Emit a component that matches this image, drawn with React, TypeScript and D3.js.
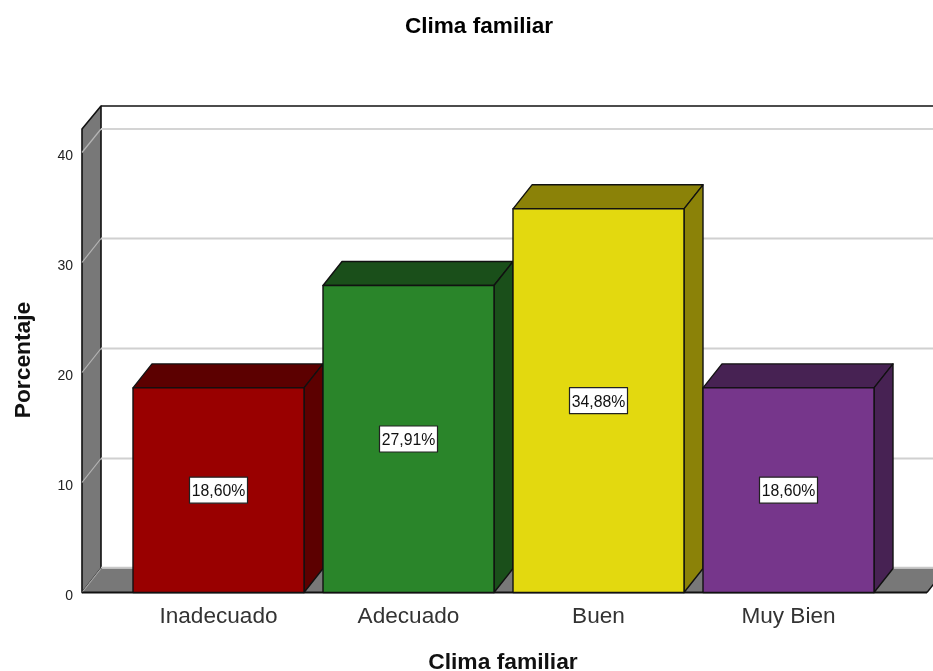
import React from "react";
import * as d3 from "d3";

const categories = ["Inadecuado", "Adecuado", "Buen", "Muy Bien"];
const values = [18.6, 27.91, 34.88, 18.6];
const valueLabels = ["18,60%", "27,91%", "34,88%", "18,60%"];
const frontColors = ["#990000", "#2a852a", "#e3d90f", "#76368b"];
const sideColors = ["#5c0000", "#1a4f1a", "#8b8208", "#472253"];
const topColors = ["#5c0000", "#1a4f1a", "#8b8208", "#472253"];
const yTicks = [0, 10, 20, 30, 40];

const FONT = "'Liberation Sans', Arial, sans-serif";
const W = 933, H = 671;
const DX = 19, DY = 24;
const left = 82, rightFloor = 927;

export default function App() {
  const y = d3.scaleLinear().domain([0, 40]).range([592.5, 152.5]);
  const x = d3.scaleBand<string>().domain(categories).range([123.5, 883.5]).paddingInner(0.1).paddingOuter(0.05);
  const y0 = y(0);
  const wallTop = 129;
  const pts = (p: number[][]) => p.map((q) => q.join(",")).join(" ");
  return (
    <svg width={W} height={H} viewBox={`0 0 ${W} ${H}`} style={{ position: "absolute", left: 0, top: 0, background: "#fff", fontFamily: FONT, filter: "blur(0.4px)" }}>
      <text x={479} y={33} textAnchor="middle" fontSize={22.6} fontWeight="bold" fill="#000">Clima familiar</text>

      {/* side wall, floor, back wall */}
      <polygon points={pts([[left, wallTop], [left + DX, wallTop - DY + 1], [left + DX, y0 - DY], [left, y0]])} fill="#787878" stroke="#111" strokeWidth={1.6} strokeLinejoin="round" />
      <polygon points={pts([[left, y0], [left + DX, y0 - DY], [rightFloor + DX, y0 - DY], [rightFloor, y0]])} fill="#787878" stroke="none" />
      <line x1={left + DX} x2={W} y1={y0 - DY - 1} y2={y0 - DY - 1} stroke="#c8c8c8" strokeWidth={1.5} />
      <line x1={left} x2={left + DX} y1={y0} y2={y0 - DY} stroke="#aaa" strokeWidth={1.2} />
      <line x1={left + DX} x2={W} y1={wallTop - DY + 1} y2={wallTop - DY + 1} stroke="#111" strokeWidth={1.6} />
      <line x1={left + DX} x2={W} y1={wallTop} y2={wallTop} stroke="#d4d4d4" strokeWidth={2} />
      <line x1={left} x2={left + DX} y1={y(40)} y2={wallTop} stroke="#b5b5b5" strokeWidth={1.2} />
      {yTicks.slice(1, 4).map((t) => (
        <g key={`g${t}`}>
          <line x1={left + DX} x2={W} y1={y(t) - DY} y2={y(t) - DY} stroke="#d0d0d0" strokeWidth={2} />
          <line x1={left} x2={left + DX} y1={y(t)} y2={y(t) - DY} stroke="#b5b5b5" strokeWidth={1.2} />
        </g>
      ))}
      <line x1={left} x2={rightFloor} y1={y0} y2={y0} stroke="#111" strokeWidth={1.8} />
      <line x1={rightFloor} x2={rightFloor + DX} y1={y0} y2={y0 - DY} stroke="#111" strokeWidth={1.4} />

      {yTicks.map((t) => (
        <text key={t} x={73} y={y(t) + 7} textAnchor="end" fontSize={14} fill="#222">{t}</text>
      ))}

      {categories.map((c, i) => {
        const bx = x(c)!;
        const bw = x.bandwidth();
        const by = y(values[i]);
        const cx = bx + bw / 2;
        const cy = (by + y0) / 2;
        return (
          <g key={c} stroke="#111" strokeWidth={1.4} strokeLinejoin="round">
            <polygon points={pts([[bx, by], [bx + DX, by - DY], [bx + bw + DX, by - DY], [bx + bw, by]])} fill={topColors[i]} />
            <polygon points={pts([[bx + bw, by], [bx + bw + DX, by - DY], [bx + bw + DX, y0 - DY], [bx + bw, y0]])} fill={sideColors[i]} />
            <rect x={bx} y={by} width={bw} height={y0 - by} fill={frontColors[i]} />
            <rect x={cx - 29} y={cy - 13} width={58} height={26} fill="#fff" stroke="#222" strokeWidth={1.2} />
            <text x={cx} y={cy + 6} textAnchor="middle" fontSize={15.8} fill="#111" stroke="none">{valueLabels[i]}</text>
            <text x={cx} y={623} textAnchor="middle" fontSize={22.6} fill="#333" stroke="none">{c}</text>
          </g>
        );
      })}

      <text x={503} y={669} textAnchor="middle" fontSize={22.8} fontWeight="bold" fill="#111">Clima familiar</text>
      <text transform="translate(30,360) rotate(-90)" textAnchor="middle" fontSize={22.8} fontWeight="bold" fill="#111">Porcentaje</text>
    </svg>
  );
}
